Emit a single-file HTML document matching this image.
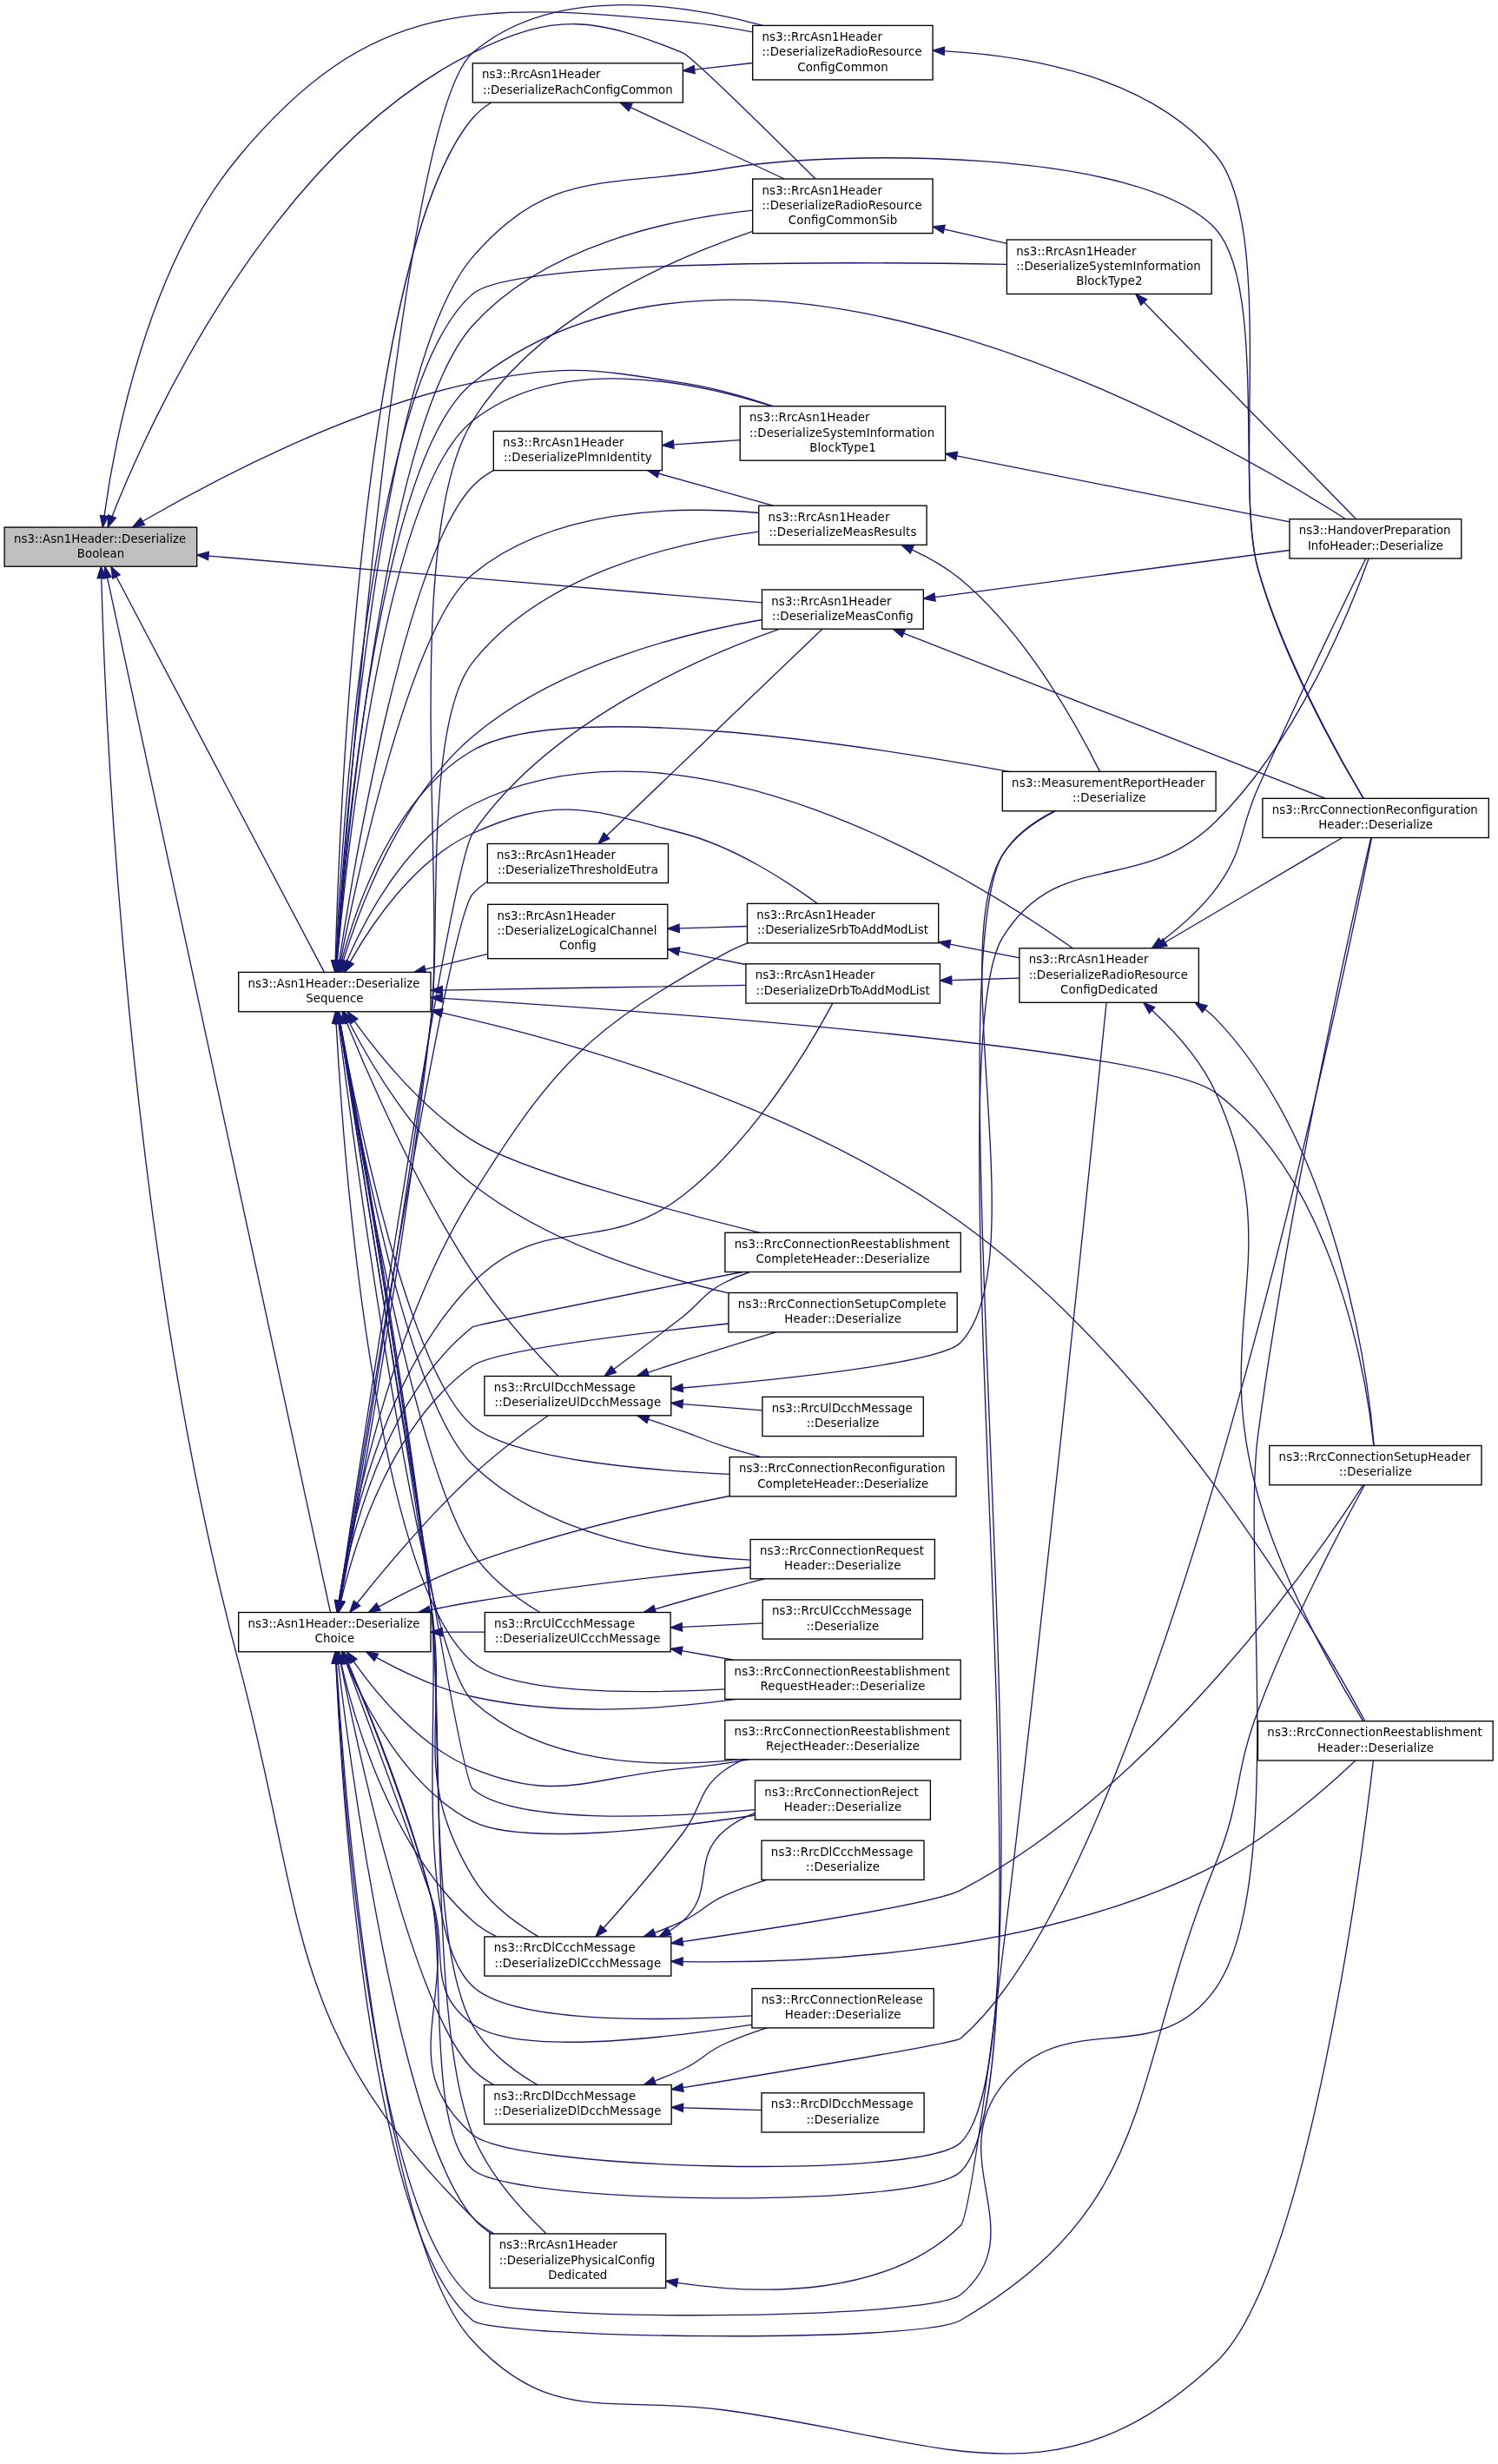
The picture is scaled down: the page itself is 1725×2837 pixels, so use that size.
<!DOCTYPE html>
<html><head><meta charset="utf-8"><title>ns3::Asn1Header::DeserializeBoolean caller graph</title>
<style>html,body{margin:0;padding:0;background:#fff}svg{display:block;will-change:transform;transform:translateZ(0)}</style></head>
<body>
<svg width="1725" height="2837" viewBox="0 0 1725 2837">
<g fill="none" stroke="#191970" stroke-width="1.33">
<path d="M392.0,1177.9C410.9,1281.0 465.7,1587.8 496.0,1844.5 512.0,1980.2 492.8,2331.1 544.3,2457.7 562.7,2503.0 600.7,2544.9 629.2,2571.9"/>
<path d="M391.7,1177.9C410.0,1281.1 463.1,1588.1 496.0,1844.5 509.8,1952.4 491.0,2236.9 544.3,2331.8 561.1,2361.8 592.4,2385.0 618.9,2400.5"/>
<path d="M123.6,665.2C163.6,850.9 348.0,1706.0 380.5,1856.5"/>
<path d="M391.1,1178.0C407.5,1281.4 456.4,1589.0 496.0,1844.5 517.8,1985.2 471.3,2038.9 544.3,2161.2 562.0,2191.0 593.6,2214.3 620.0,2229.9"/>
<path d="M386.2,1106.1C390.6,944.4 416.4,287.3 544.3,136.0 550.4,128.8 557.8,122.9 565.9,118.0"/>
<path d="M391.0,1843.3C415.9,1685.7 516.1,1060.4 544.3,1029.3 549.2,1023.8 555.0,1019.2 561.3,1015.2"/>
<path d="M1326.6,1163.2C1353.1,1187.8 1383.6,1221.5 1400.1,1258.4 1484.7,1447.4 1392.3,1522.5 1448.6,1721.8 1477.5,1824.2 1541.3,1935.1 1569.7,1981.7"/>
<path d="M390.9,1178.0C410.1,1298.0 475.9,1684.1 544.3,1787.8 563.6,1817.1 595.6,1840.7 621.8,1856.5"/>
<path d="M389.5,1915.0C404.5,2040.0 459.9,2454.0 544.3,2553.1 550.4,2560.4 557.8,2566.6 565.8,2571.9"/>
<path d="M390.7,1106.2C408.2,992.2 467.4,641.2 544.3,559.8 551.2,552.5 559.4,546.5 568.3,541.6"/>
<path d="M1387.3,1161.8C1391.9,1165.3 1396.2,1169.0 1400.1,1173.1 1541.8,1321.1 1575.3,1585.8 1582.3,1664.5"/>
<path d="M392.3,1914.9C412.9,2018.1 476.7,2313.7 544.3,2382.5 551.4,2389.7 559.8,2395.6 568.8,2400.5"/>
<path d="M134.0,664.0C185.2,761.5 330.7,1038.2 373.4,1119.4"/>
<path d="M1337.1,1083.9C1359.1,1067.3 1382.9,1046.4 1400.1,1023.3 1433.6,978.6 1425.9,958.4 1448.6,907.3 1492.7,808.0 1549.2,691.3 1572.8,643.0"/>
<path d="M399.2,1177.2C424.0,1238.2 479.6,1366.8 544.3,1465.2 574.2,1510.7 617.0,1557.6 642.9,1584.5"/>
<path d="M392.7,1914.8C408.4,1982.5 451.8,2129.9 544.3,2211.8 552.4,2219.1 561.9,2225.0 571.9,2229.9"/>
<path d="M1317.2,348.0C1382.6,414.8 1510.4,545.2 1561.7,597.7"/>
<path d="M1050.1,632.8C1069.7,641.9 1089.7,653.3 1106.2,667.0 1184.4,732.2 1243.4,841.4 1266.5,888.4"/>
<path d="M698.5,962.3C760.6,902.8 893.0,775.9 946.9,724.2"/>
<path d="M411.1,1846.0C441.1,1808.4 493.1,1745.9 544.3,1698.5 571.9,1672.9 606.5,1647.3 631.6,1629.8"/>
<path d="M694.9,2220.0C720.2,2191.8 756.9,2149.4 786.4,2110.5 809.7,2079.6 803.2,2060.4 834.8,2038.0 841.4,2033.3 848.5,2029.3 856.0,2025.8"/>
<path d="M1341.6,1085.0C1403.4,1048.5 1494.6,994.7 1545.7,964.5"/>
<path d="M770.7,2223.5C776.3,2220.0 781.6,2216.1 786.4,2211.8 824.5,2177.6 795.4,2140.0 834.8,2107.2 845.0,2098.7 856.9,2092.3 869.5,2087.4"/>
<path d="M706.7,1576.5C730.2,1559.0 760.1,1536.4 786.4,1515.9 808.2,1498.8 810.0,1489.0 834.8,1476.5 843.8,1472.0 853.5,1468.0 863.4,1464.5"/>
<path d="M726.0,123.6C777.2,147.4 850.3,181.4 903.2,206.0"/>
<path d="M753.7,2225.4C764.9,2221.2 776.0,2216.7 786.4,2211.8 809.2,2201.2 811.8,2192.6 834.8,2182.4 850.0,2175.6 866.7,2169.6 882.9,2164.4"/>
<path d="M753.8,2396.0C764.9,2391.8 776.0,2387.3 786.4,2382.5 809.2,2371.8 811.8,2363.2 834.8,2353.0 850.1,2346.2 866.8,2340.1 883.1,2334.9"/>
<path d="M745.9,1580.3C774.0,1571.1 805.7,1560.8 834.8,1551.7 853.8,1545.8 874.3,1539.6 893.5,1533.8"/>
<path d="M746.5,1634.1C759.8,1638.6 773.5,1643.3 786.4,1647.8 808.0,1655.4 812.9,1658.8 834.8,1665.6 848.2,1669.8 862.5,1673.8 876.6,1677.6"/>
<path d="M758.4,545.2C800.5,557.0 849.6,570.8 890.1,582.2"/>
<path d="M754.1,1852.8C780.1,1845.2 808.5,1837.1 834.8,1829.9 849.5,1825.9 865.1,1821.8 880.4,1817.8"/>
<path d="M489.6,1116.2C513.2,1110.3 538.2,1104.1 561.7,1098.3"/>
<path d="M1087.1,263.9C1110.8,269.3 1135.7,275.0 1159.4,280.4"/>
<path d="M781.9,1095.4C807.2,1100.4 833.8,1105.6 858.9,1110.5"/>
<path d="M1093.8,1087.2C1120.4,1092.4 1148.2,1097.8 1173.9,1102.9"/>
<path d="M785.2,1900.6C804.6,1904.1 824.8,1907.7 844.3,1911.2"/>
<path d="M799.6,80.1C822.1,77.5 845.1,74.9 866.7,72.5"/>
<path d="M786.1,1616.6C816.6,1619.0 849.0,1621.5 877.9,1623.8"/>
<path d="M775.7,511.8C800.6,510.1 827.0,508.4 852.2,506.7"/>
<path d="M785.4,1873.4C816.3,1871.9 849.0,1870.3 878.2,1868.9"/>
<path d="M782.1,1068.9C807.9,1068.1 835.0,1067.3 860.5,1066.5"/>
<path d="M1095.7,1128.6C1121.7,1127.8 1148.8,1127.0 1173.9,1126.2"/>
<path d="M786.5,2426.8C816.6,2427.7 848.5,2428.7 877.0,2429.6"/>
<path d="M509.3,1879.2C525.7,1879.2 542.3,1879.2 558.3,1879.2"/>
<path d="M116.7,665.5C121.0,818.6 145.8,1431.4 274.7,1913.8 354.3,2211.7 325.4,2335.9 544.3,2553.1 551.5,2560.3 560.0,2566.5 568.9,2571.9"/>
<path d="M392.1,1843.4C411.3,1740.3 466.9,1433.7 496.0,1176.8 513.4,1023.6 462.7,615.4 544.3,484.5 616.8,368.2 765.6,300.6 866.7,266.3"/>
<path d="M779.9,2628.3C879.8,2643.0 1021.6,2644.8 1106.2,2562.4 1132.5,2536.8 1252.9,1362.1 1274.1,1154.3"/>
<path d="M391.5,1843.4C409.2,1740.1 460.9,1433.0 496.0,1176.8 508.6,1085.0 487.0,835.4 544.3,762.6 623.7,661.6 774.5,625.2 873.8,612.1"/>
<path d="M390.7,1843.3C415.4,1678.2 518.6,997.1 544.3,959.5 630.4,833.3 800.6,758.5 897.9,724.2"/>
<path d="M391.6,1177.9C409.5,1281.2 461.9,1588.2 496.0,1844.5 509.1,1942.6 472.6,2218.9 544.3,2287.1 588.8,2329.5 754.7,2327.5 865.9,2320.8"/>
<path d="M387.9,1106.1C400.9,926.3 462.8,131.2 544.3,60.8 635.5,-18.0 783.1,3.4 878.5,29.4"/>
<path d="M390.9,1178.0C417.1,1345.7 527.1,2044.9 544.3,2059.8 591.1,2100.4 758.9,2093.4 869.5,2083.7"/>
<path d="M388.1,1106.1C399.1,969.6 444.6,485.7 544.3,374.7 626.2,283.4 769.2,252.4 866.7,242.1"/>
<path d="M1087.4,58.8C1186.4,64.0 1324.0,88.7 1400.1,178.7 1468.8,259.9 1420.1,552.5 1448.6,655.0 1477.5,759.1 1541.6,872.2 1570.0,919.3"/>
<path d="M389.8,1178.0C408.9,1328.7 485.1,1904.3 544.3,1958.5 625.3,2032.7 754.8,2036.2 849.8,2025.8"/>
<path d="M390.4,1843.3C403.8,1757.1 446.1,1533.6 544.3,1375.8 638.7,1224.1 678.5,1184.6 834.8,1097.8 843.0,1093.2 851.8,1089.3 860.9,1085.8"/>
<path d="M387.1,1178.1C394.8,1317.2 430.0,1816.1 544.3,1913.8 586.7,1950.0 726.7,1950.6 834.8,1944.9"/>
<path d="M390.0,1843.3C401.9,1766.3 440.0,1583.4 544.3,1477.2 625.9,1394.1 694.3,1447.9 786.4,1376.5 869.0,1312.4 933.6,1202.4 958.9,1155.1"/>
<path d="M786.1,1598.0C908.9,1587.6 1084.3,1568.8 1106.2,1545.8 1192.3,1455.0 1088.0,1090.8 1154.3,984.7 1168.5,962.0 1192.4,945.4 1215.3,933.8"/>
<path d="M391.1,1178.0C409.3,1287.4 469.1,1613.9 544.3,1686.5 629.6,1768.9 768.2,1791.3 864.1,1796.2"/>
<path d="M388.3,1106.1C399.7,980.3 444.2,563.3 544.3,484.5 642.0,407.6 794.9,437.8 888.6,467.7"/>
<path d="M391.7,1177.9C410.7,1281.9 470.9,1580.1 544.3,1641.8 588.0,1678.6 731.6,1692.3 840.2,1697.3"/>
<path d="M392.1,1106.3C412.0,1005.0 473.3,720.0 544.3,661.2 636.1,585.2 779.1,582.1 873.8,590.5"/>
<path d="M395.2,1106.6C413.9,1045.2 460.7,918.9 544.3,848.0 640.3,766.6 784.0,729.7 877.5,713.5"/>
<path d="M390.6,1843.3C403.2,1771.4 441.8,1609.4 544.3,1527.8 547.4,1525.3 730.0,1489.1 855.1,1464.5"/>
<path d="M398.6,1914.3C419.7,1970.7 462.2,2085.1 496.0,2182.8 518.6,2248.1 488.4,2290.0 544.3,2330.5 593.7,2366.4 756.4,2348.4 865.9,2331.1"/>
<path d="M402.0,1176.7C426.7,1224.9 477.6,1312.1 544.3,1363.8 630.4,1430.6 748.8,1468.3 839.0,1488.8"/>
<path d="M392.6,1843.5C408.1,1778.0 450.5,1639.1 544.3,1572.5 568.2,1555.5 722.8,1536.3 839.0,1524.0"/>
<path d="M408.0,1175.7C435.8,1214.3 486.3,1277.0 544.3,1313.1 599.6,1347.7 767.4,1392.7 875.2,1419.3"/>
<path d="M1040.6,729.1C1163.0,777.0 1413.2,875.0 1526.2,919.3"/>
<path d="M398.7,1914.1C420.4,1965.3 468.6,2058.7 544.3,2097.2 599.1,2125.0 761.7,2106.5 869.5,2090.0"/>
<path d="M436.0,1850.1C466.6,1833.5 506.7,1813.4 544.3,1799.9 641.0,1765.0 754.6,1739.1 840.2,1722.5"/>
<path d="M407.1,1912.8C434.0,1951.0 483.8,2011.2 544.3,2036.1 643.8,2076.9 679.2,2045.6 786.4,2036.1 811.1,2033.9 837.5,2030.1 862.3,2025.8"/>
<path d="M1101.7,524.9C1216.5,547.6 1380.9,580.2 1485.0,600.8"/>
<path d="M494.9,1853.8C511.4,1850.4 528.3,1847.2 544.3,1844.5 652.6,1826.5 777.6,1812.8 864.1,1804.5"/>
<path d="M1076.5,687.6C1191.3,672.4 1373.0,648.3 1485.0,633.5"/>
<path d="M403.1,1107.7C427.9,1063.8 477.5,989.9 544.3,959.5 642.2,914.9 682.3,932.2 786.4,959.5 846.0,975.1 906.8,1014.9 941.4,1040.4"/>
<path d="M433.3,1908.4C463.8,1925.2 504.9,1944.8 544.3,1953.5 644.8,1975.9 761.9,1968.2 847.9,1956.4"/>
<path d="M509.3,1140.1C612.8,1138.3 759.0,1135.9 858.9,1134.3"/>
<path d="M164.1,600.3C241.2,555.5 398.2,471.6 544.3,440.9 649.6,418.7 680.0,424.5 786.4,440.9 821.1,446.2 858.2,456.9 890.0,467.7"/>
<path d="M129.0,594.7C170.5,489.7 310.3,177.5 544.3,60.8 640.6,12.8 686.5,20.7 786.4,60.8 795.9,64.6 889.1,156.3 939.1,206.0"/>
<path d="M786.4,2403.7C914.7,2382.9 1100.0,2352.2 1106.2,2346.9 1336.5,2150.1 1546.7,1129.7 1579.5,964.5"/>
<path d="M400.4,1914.1C423.8,1969.9 469.3,2083.1 496.0,2182.8 528.1,2302.6 450.6,2376.4 544.3,2457.7 591.4,2498.6 1061.3,2510.4 1106.2,2467.0 1224.6,2352.4 1070.7,1126.7 1154.3,984.7 1167.7,961.9 1191.2,945.4 1214.0,933.8"/>
<path d="M386.8,1106.1C393.3,963.4 425.2,440.6 544.3,338.5 589.7,299.5 964.0,300.9 1159.4,304.4"/>
<path d="M120.1,593.9C131.2,512.0 168.6,308.4 274.7,180.7 426.6,-2.2 549.8,2.2 786.4,24.9 812.6,27.4 840.6,31.9 866.7,36.9"/>
<path d="M786.0,2235.6C906.6,2218.0 1078.1,2191.2 1106.2,2176.4 1333.8,2056.7 1518.3,1789.2 1569.7,1709.8"/>
<path d="M786.1,2258.6C937.9,2261.2 1202.5,2248.6 1400.1,2147.3 1464.1,2114.5 1527.9,2058.3 1560.9,2027.0"/>
<path d="M393.4,1106.5C409.8,1044.1 453.0,917.0 544.3,864.0 646.1,805.0 982.3,855.6 1161.9,888.4"/>
<path d="M240.0,640.1C413.0,654.7 722.9,680.8 877.5,693.8"/>
<path d="M399.0,1107.1C420.9,1056.4 469.2,964.4 544.3,926.5 788.8,803.0 1119.6,1009.8 1235.3,1091.8"/>
<path d="M509.3,1149.4C764.3,1165.3 1329.9,1206.1 1400.1,1258.4 1539.0,1361.8 1574.1,1591.6 1581.9,1664.5"/>
<path d="M400.6,1914.0C424.5,1969.8 470.4,2082.8 496.0,2182.8 513.6,2251.5 490.7,2451.7 544.3,2498.1 591.5,2539.0 1061.3,2543.8 1106.2,2500.5 1219.8,2390.7 1071.4,1214.2 1154.3,1079.8 1219.6,973.9 1311.5,1033.1 1400.1,945.8 1494.8,852.5 1555.6,700.2 1576.2,643.0"/>
<path d="M387.0,1915.1C394.3,2054.0 428.3,2552.0 544.3,2646.4 578.3,2674.1 1070.8,2671.5 1106.2,2642.1 1190.3,2572.1 1086.3,2486.4 1154.3,2400.7 1228.9,2306.7 1331.4,2387.4 1400.1,2289.1 1481.4,2172.9 1429.9,1793.1 1448.6,1652.5 1484.9,1379.3 1558.4,1052.3 1578.7,964.5"/>
<path d="M509.0,1166.1C660.8,1200.2 920.9,1273.8 1106.2,1407.3 1342.6,1577.6 1524.7,1894.6 1571.9,1981.7"/>
<path d="M387.8,1106.1C397.4,974.9 437.9,525.8 544.3,440.9 861.3,187.6 1408.2,507.1 1549.7,597.7"/>
<path d="M387.4,1106.1C396.4,961.0 436.6,421.2 544.3,295.9 633.4,192.1 699.9,217.0 834.8,194.0 959.6,172.8 1315.7,169.7 1400.1,264.0 1458.5,329.2 1424.2,570.9 1448.6,655.0 1478.7,758.8 1542.2,872.1 1570.2,919.3"/>
<path d="M386.8,1915.1C393.2,2056.8 424.6,2573.7 544.3,2671.7 569.8,2692.6 1059.8,2698.8 1106.2,2671.5 1337.3,2535.7 1298.4,2392.9 1400.1,2145.0 1430.8,2070.2 1420.2,2045.4 1448.6,1969.7 1486.0,1869.7 1545.6,1757.0 1571.4,1709.8"/>
<path d="M387.4,1915.1C396.4,2057.3 436.1,2578.6 544.3,2695.3 635.3,2793.5 702.1,2757.1 834.8,2775.0 1085.0,2808.7 1215.8,2892.5 1400.1,2720.0 1506.1,2620.8 1568.4,2137.7 1581.4,2027.0"/>
</g>
<g fill="#191970" stroke="#191970" stroke-width="1.33">
<polygon points="387.4,1178.8 389.6,1164.8 396.6,1177.1"/>
<polygon points="387.1,1178.7 389.4,1164.8 396.3,1177.1"/>
<polygon points="119.0,666.2 120.8,652.2 128.1,664.2"/>
<polygon points="386.5,1178.7 389.0,1164.8 395.7,1177.2"/>
<polygon points="390.8,1106.2 385.8,1119.4 381.5,1105.9"/>
<polygon points="395.6,1844.1 388.9,1856.5 386.4,1842.6"/>
<polygon points="1323.4,1166.7 1316.7,1154.3 1329.7,1159.8"/>
<polygon points="386.3,1178.7 388.8,1164.8 395.5,1177.2"/>
<polygon points="384.8,1915.6 387.9,1901.8 394.1,1914.5"/>
<polygon points="395.3,1106.9 388.7,1119.4 386.0,1105.5"/>
<polygon points="1384.7,1165.7 1376.3,1154.3 1390.0,1158.0"/>
<polygon points="387.7,1915.8 389.7,1901.8 396.8,1914.0"/>
<polygon points="129.8,666.2 127.8,652.2 138.1,661.8"/>
<polygon points="1339.9,1087.7 1326.4,1091.8 1334.4,1080.1"/>
<polygon points="394.9,1178.9 394.2,1164.8 403.5,1175.4"/>
<polygon points="388.1,1915.8 389.8,1901.8 397.2,1913.8"/>
<polygon points="1313.8,351.3 1307.8,338.5 1320.5,344.8"/>
<polygon points="1048.2,637.1 1037.9,627.4 1052.0,628.5"/>
<polygon points="701.7,965.6 688.9,971.5 695.3,958.9"/>
<polygon points="414.7,1848.9 402.8,1856.5 407.4,1843.1"/>
<polygon points="698.4,2223.1 686.0,2229.9 691.5,2216.9"/>
<polygon points="1344.0,1089.0 1330.1,1091.8 1339.2,1081.0"/>
<polygon points="772.9,2227.5 759.0,2229.9 768.4,2219.4"/>
<polygon points="709.5,1580.3 696.0,1584.5 703.9,1572.8"/>
<polygon points="724.0,127.9 713.9,118.0 728.0,119.4"/>
<polygon points="755.3,2229.8 741.2,2229.9 752.1,2221.0"/>
<polygon points="755.4,2400.4 741.2,2400.5 752.2,2391.6"/>
<polygon points="747.4,1584.8 733.3,1584.5 744.5,1575.9"/>
<polygon points="745.0,1638.5 733.9,1629.8 748.0,1629.6"/>
<polygon points="757.1,549.7 745.6,541.6 759.7,540.7"/>
<polygon points="755.4,1857.2 741.3,1856.5 752.8,1848.3"/>
<polygon points="490.7,1120.7 476.7,1119.4 488.5,1111.7"/>
<polygon points="1086.1,268.4 1074.1,260.9 1088.1,259.3"/>
<polygon points="781.0,1100.0 768.8,1092.8 782.8,1090.8"/>
<polygon points="1092.9,1091.8 1080.7,1084.6 1094.7,1082.6"/>
<polygon points="784.4,1905.2 772.1,1898.3 786.0,1896.0"/>
<polygon points="800.2,84.7 786.4,81.6 799.1,75.5"/>
<polygon points="785.7,1621.2 772.8,1615.5 786.5,1611.9"/>
<polygon points="776.0,516.4 762.4,512.7 775.4,507.1"/>
<polygon points="785.6,1878.0 772.1,1874.0 785.2,1868.7"/>
<polygon points="782.3,1073.6 768.8,1069.3 782.0,1064.2"/>
<polygon points="1095.9,1133.3 1082.4,1129.0 1095.6,1123.9"/>
<polygon points="786.4,2431.5 773.2,2426.4 786.7,2422.1"/>
<polygon points="509.3,1883.8 496.0,1879.2 509.3,1874.5"/>
<polygon points="112.1,665.7 116.4,652.2 121.4,665.4"/>
<polygon points="396.7,1844.3 389.7,1856.5 387.5,1842.5"/>
<polygon points="779.2,2633.0 766.7,2626.3 780.6,2623.7"/>
<polygon points="396.1,1844.1 389.3,1856.5 386.9,1842.6"/>
<polygon points="395.3,1844.0 388.7,1856.5 386.1,1842.6"/>
<polygon points="387.0,1178.7 389.3,1164.8 396.2,1177.1"/>
<polygon points="392.5,1106.4 386.9,1119.4 383.2,1105.8"/>
<polygon points="386.3,1178.7 388.9,1164.8 395.5,1177.3"/>
<polygon points="392.7,1106.5 387.0,1119.4 383.4,1105.7"/>
<polygon points="1087.2,63.4 1074.1,58.2 1087.6,54.1"/>
<polygon points="385.2,1178.6 388.2,1164.8 394.4,1177.4"/>
<polygon points="395.0,1844.0 388.4,1856.5 385.8,1842.6"/>
<polygon points="382.5,1178.4 386.4,1164.8 391.8,1177.9"/>
<polygon points="394.7,1844.0 388.1,1856.5 385.4,1842.6"/>
<polygon points="786.5,1602.7 772.8,1599.2 785.7,1593.4"/>
<polygon points="386.5,1178.7 388.9,1164.8 395.7,1177.2"/>
<polygon points="393.0,1106.5 387.2,1119.4 383.7,1105.7"/>
<polygon points="387.1,1178.8 389.3,1164.8 396.3,1177.1"/>
<polygon points="396.7,1107.2 389.6,1119.4 387.5,1105.4"/>
<polygon points="399.6,1107.9 391.4,1119.4 390.7,1105.3"/>
<polygon points="395.2,1844.1 388.4,1856.5 386.0,1842.6"/>
<polygon points="394.2,1915.9 393.9,1901.8 403.0,1912.6"/>
<polygon points="397.8,1178.8 396.0,1164.8 406.1,1174.6"/>
<polygon points="397.2,1844.5 389.7,1856.5 388.1,1842.5"/>
<polygon points="404.2,1178.4 400.3,1164.8 411.8,1173.0"/>
<polygon points="1038.9,733.4 1028.2,724.2 1042.3,724.7"/>
<polygon points="394.4,1915.9 393.6,1901.8 403.0,1912.4"/>
<polygon points="438.2,1854.2 424.3,1856.5 433.7,1846.0"/>
<polygon points="403.2,1915.4 399.5,1901.8 410.9,1910.2"/>
<polygon points="1100.8,529.5 1088.6,522.3 1102.6,520.3"/>
<polygon points="495.9,1858.3 481.9,1856.5 494.0,1849.2"/>
<polygon points="1077.1,692.2 1063.3,689.3 1075.9,682.9"/>
<polygon points="407.2,1110.0 396.6,1119.4 399.0,1105.5"/>
<polygon points="431.0,1912.4 421.7,1901.8 435.6,1904.3"/>
<polygon points="509.4,1144.7 496.0,1140.3 509.3,1135.4"/>
<polygon points="166.5,604.4 152.7,607.1 161.8,596.3"/>
<polygon points="133.4,596.4 124.2,607.1 124.7,593.0"/>
<polygon points="787.1,2408.3 773.2,2405.8 785.6,2399.1"/>
<polygon points="396.1,1915.9 395.2,1901.8 404.7,1912.3"/>
<polygon points="391.5,1106.3 386.2,1119.4 382.1,1105.9"/>
<polygon points="124.7,594.5 118.3,607.1 115.4,593.3"/>
<polygon points="786.7,2240.2 772.8,2237.5 785.3,2231.0"/>
<polygon points="786.0,2263.2 772.8,2258.3 786.2,2253.9"/>
<polygon points="398.0,1107.6 390.2,1119.4 388.9,1105.3"/>
<polygon points="239.6,644.7 226.7,639.0 240.4,635.4"/>
<polygon points="403.3,1108.9 393.8,1119.4 394.7,1105.3"/>
<polygon points="509.0,1154.0 496.0,1148.5 509.6,1144.7"/>
<polygon points="396.4,1915.9 395.4,1901.8 404.9,1912.2"/>
<polygon points="382.4,1915.4 386.4,1901.8 391.7,1914.9"/>
<polygon points="508.0,1170.7 496.0,1163.3 510.0,1161.6"/>
<polygon points="392.4,1106.4 386.8,1119.4 383.1,1105.8"/>
<polygon points="392.1,1106.4 386.6,1119.4 382.8,1105.8"/>
<polygon points="382.1,1915.3 386.2,1901.8 391.4,1914.9"/>
<polygon points="382.8,1915.4 386.6,1901.8 392.1,1914.8"/>
</g>
<g font-family="'DejaVu Sans', 'Liberation Sans', sans-serif" font-size="13.33px" fill="#000">
<rect x="5.1" y="607.1" width="221.6" height="45.1" fill="#bfbfbf" stroke="#000" stroke-width="1.33"/>
<text x="15.9" y="624.6" textLength="198.3">ns3::Asn1Header::Deserialize</text>
<text x="88.7" y="641.9" textLength="54.4">Boolean</text>
<rect x="274.7" y="1119.4" width="221.3" height="45.4" fill="#fff" stroke="#000" stroke-width="1.33"/>
<text x="285.5" y="1137.0" textLength="198.0">ns3::Asn1Header::Deserialize</text>
<text x="352.3" y="1154.3" textLength="66.2">Sequence</text>
<rect x="274.7" y="1856.5" width="221.3" height="45.3" fill="#fff" stroke="#000" stroke-width="1.33"/>
<text x="285.5" y="1874.1" textLength="198.0">ns3::Asn1Header::Deserialize</text>
<text x="362.6" y="1891.4" textLength="45.5">Choice</text>
<rect x="544.3" y="72.8" width="242.1" height="45.2" fill="#fff" stroke="#000" stroke-width="1.33"/>
<text x="555.1" y="90.3" textLength="136.5">ns3::RrcAsn1Header</text>
<text x="555.9" y="107.6" textLength="218.8">::DeserializeRachConfigCommon</text>
<rect x="568.3" y="496.5" width="194.1" height="45.1" fill="#fff" stroke="#000" stroke-width="1.33"/>
<text x="579.1" y="513.9" textLength="139.4">ns3::RrcAsn1Header</text>
<text x="579.9" y="531.2" textLength="170.8">::DeserializePlmnIdentity</text>
<rect x="561.3" y="971.5" width="208.2" height="45.1" fill="#fff" stroke="#000" stroke-width="1.33"/>
<text x="572.1" y="988.9" textLength="136.8">ns3::RrcAsn1Header</text>
<text x="572.9" y="1006.2" textLength="184.9">::DeserializeThresholdEutra</text>
<rect x="561.7" y="1041.3" width="207.1" height="62.4" fill="#fff" stroke="#000" stroke-width="1.33"/>
<text x="572.5" y="1058.8" textLength="136.2">ns3::RrcAsn1Header</text>
<text x="572.5" y="1076.0" textLength="184.0">::DeserializeLogicalChannel</text>
<text x="643.9" y="1093.4" textLength="42.8">Config</text>
<rect x="557.9" y="1584.5" width="214.9" height="45.3" fill="#fff" stroke="#000" stroke-width="1.33"/>
<text x="568.7" y="1602.1" textLength="163.1">ns3::RrcUlDcchMessage</text>
<text x="569.5" y="1619.4" textLength="191.6">::DeserializeUlDcchMessage</text>
<rect x="558.3" y="1856.5" width="213.8" height="45.3" fill="#fff" stroke="#000" stroke-width="1.33"/>
<text x="569.1" y="1874.1" textLength="162.0">ns3::RrcUlCcchMessage</text>
<text x="570.0" y="1891.4" textLength="190.5">::DeserializeUlCcchMessage</text>
<rect x="557.9" y="2229.9" width="214.9" height="45.2" fill="#fff" stroke="#000" stroke-width="1.33"/>
<text x="568.7" y="2247.4" textLength="163.0">ns3::RrcDlCcchMessage</text>
<text x="569.5" y="2264.7" textLength="191.6">::DeserializeDlCcchMessage</text>
<rect x="557.5" y="2400.5" width="215.7" height="45.2" fill="#fff" stroke="#000" stroke-width="1.33"/>
<text x="568.3" y="2418.0" textLength="163.9">ns3::RrcDlDcchMessage</text>
<text x="569.1" y="2435.3" textLength="192.4">::DeserializeDlDcchMessage</text>
<rect x="563.9" y="2571.9" width="202.8" height="62.5" fill="#fff" stroke="#000" stroke-width="1.33"/>
<text x="574.7" y="2589.4" textLength="136.2">ns3::RrcAsn1Header</text>
<text x="574.7" y="2606.7" textLength="179.5">::DeserializePhysicalConfig</text>
<text x="631.3" y="2624.0" textLength="68.0">Dedicated</text>
<rect x="866.7" y="29.4" width="207.4" height="62.5" fill="#fff" stroke="#000" stroke-width="1.33"/>
<text x="877.5" y="46.9" textLength="138.4">ns3::RrcAsn1Header</text>
<text x="877.5" y="64.2" textLength="184.1">::DeserializeRadioResource</text>
<text x="918.2" y="81.5" textLength="104.5">ConfigCommon</text>
<rect x="866.7" y="206.0" width="207.4" height="62.6" fill="#fff" stroke="#000" stroke-width="1.33"/>
<text x="877.5" y="223.6" textLength="138.4">ns3::RrcAsn1Header</text>
<text x="877.5" y="240.9" textLength="184.1">::DeserializeRadioResource</text>
<text x="907.7" y="258.1" textLength="125.4">ConfigCommonSib</text>
<rect x="852.2" y="467.7" width="236.4" height="62.5" fill="#fff" stroke="#000" stroke-width="1.33"/>
<text x="863.0" y="485.2" textLength="138.6">ns3::RrcAsn1Header</text>
<text x="863.0" y="502.5" textLength="213.1">::DeserializeSystemInformation</text>
<text x="932.2" y="519.8" textLength="76.5">BlockType1</text>
<rect x="873.8" y="582.2" width="193.3" height="45.2" fill="#fff" stroke="#000" stroke-width="1.33"/>
<text x="884.6" y="599.7" textLength="139.9">ns3::RrcAsn1Header</text>
<text x="885.4" y="617.0" textLength="170.0">::DeserializeMeasResults</text>
<rect x="877.5" y="679.0" width="185.8" height="45.2" fill="#fff" stroke="#000" stroke-width="1.33"/>
<text x="888.3" y="696.5" textLength="138.2">ns3::RrcAsn1Header</text>
<text x="889.1" y="713.8" textLength="162.5">::DeserializeMeasConfig</text>
<rect x="860.5" y="1040.4" width="220.2" height="45.4" fill="#fff" stroke="#000" stroke-width="1.33"/>
<text x="871.3" y="1058.0" textLength="136.7">ns3::RrcAsn1Header</text>
<text x="872.1" y="1075.3" textLength="196.9">::DeserializeSrbToAddModList</text>
<rect x="858.9" y="1109.8" width="223.5" height="45.3" fill="#fff" stroke="#000" stroke-width="1.33"/>
<text x="869.7" y="1127.3" textLength="137.7">ns3::RrcAsn1Header</text>
<text x="870.6" y="1144.6" textLength="200.2">::DeserializeDrbToAddModList</text>
<rect x="834.9" y="1419.3" width="271.4" height="45.2" fill="#fff" stroke="#000" stroke-width="1.33"/>
<text x="845.7" y="1436.8" textLength="248.1">ns3::RrcConnectionReestablishment</text>
<text x="870.4" y="1454.1" textLength="200.3">CompleteHeader::Deserialize</text>
<rect x="839.0" y="1488.5" width="263.2" height="45.3" fill="#fff" stroke="#000" stroke-width="1.33"/>
<text x="849.8" y="1506.1" textLength="239.9">ns3::RrcConnectionSetupComplete</text>
<text x="903.3" y="1523.4" textLength="134.7">Header::Deserialize</text>
<rect x="877.9" y="1608.4" width="185.4" height="45.2" fill="#fff" stroke="#000" stroke-width="1.33"/>
<text x="888.7" y="1625.9" textLength="162.1">ns3::RrcUlDcchMessage</text>
<text x="928.7" y="1643.2" textLength="83.7">::Deserialize</text>
<rect x="840.2" y="1677.6" width="260.8" height="45.3" fill="#fff" stroke="#000" stroke-width="1.33"/>
<text x="851.0" y="1695.2" textLength="237.5">ns3::RrcConnectionReconfiguration</text>
<text x="872.2" y="1712.5" textLength="196.9">CompleteHeader::Deserialize</text>
<rect x="864.1" y="1772.5" width="212.3" height="45.3" fill="#fff" stroke="#000" stroke-width="1.33"/>
<text x="874.9" y="1790.1" textLength="189.0">ns3::RrcConnectionRequest</text>
<text x="903.1" y="1807.4" textLength="134.3">Header::Deserialize</text>
<rect x="878.2" y="1841.9" width="184.3" height="45.2" fill="#fff" stroke="#000" stroke-width="1.33"/>
<text x="889.0" y="1859.4" textLength="161.0">ns3::RrcUlCcchMessage</text>
<text x="928.5" y="1876.7" textLength="83.6">::Deserialize</text>
<rect x="834.8" y="1911.2" width="271.4" height="45.2" fill="#fff" stroke="#000" stroke-width="1.33"/>
<text x="845.6" y="1928.7" textLength="248.1">ns3::RrcConnectionReestablishment</text>
<text x="875.5" y="1946.0" textLength="190.0">RequestHeader::Deserialize</text>
<rect x="834.8" y="1980.6" width="271.4" height="45.2" fill="#fff" stroke="#000" stroke-width="1.33"/>
<text x="845.6" y="1998.1" textLength="248.1">ns3::RrcConnectionReestablishment</text>
<text x="882.1" y="2015.4" textLength="176.8">RejectHeader::Deserialize</text>
<rect x="869.5" y="2050.0" width="201.9" height="45.2" fill="#fff" stroke="#000" stroke-width="1.33"/>
<text x="880.3" y="2067.5" textLength="177.4">ns3::RrcConnectionReject</text>
<text x="902.7" y="2084.8" textLength="135.4">Header::Deserialize</text>
<rect x="877.0" y="2119.2" width="187.0" height="45.2" fill="#fff" stroke="#000" stroke-width="1.33"/>
<text x="887.8" y="2136.7" textLength="163.7">ns3::RrcDlCcchMessage</text>
<text x="928.1" y="2154.0" textLength="84.8">::Deserialize</text>
<rect x="865.9" y="2289.6" width="209.4" height="45.3" fill="#fff" stroke="#000" stroke-width="1.33"/>
<text x="876.7" y="2307.2" textLength="186.1">ns3::RrcConnectionRelease</text>
<text x="903.8" y="2324.4" textLength="133.7">Header::Deserialize</text>
<rect x="877.0" y="2409.8" width="187.1" height="45.2" fill="#fff" stroke="#000" stroke-width="1.33"/>
<text x="887.8" y="2427.3" textLength="163.8">ns3::RrcDlDcchMessage</text>
<text x="928.4" y="2444.6" textLength="84.3">::Deserialize</text>
<rect x="1159.4" y="276.0" width="235.8" height="62.5" fill="#fff" stroke="#000" stroke-width="1.33"/>
<text x="1170.2" y="293.5" textLength="138.2">ns3::RrcAsn1Header</text>
<text x="1170.2" y="310.8" textLength="212.5">::DeserializeSystemInformation</text>
<text x="1239.2" y="328.1" textLength="76.3">BlockType2</text>
<rect x="1154.3" y="888.4" width="245.8" height="45.4" fill="#fff" stroke="#000" stroke-width="1.33"/>
<text x="1165.1" y="906.0" textLength="222.5">ns3::MeasurementReportHeader</text>
<text x="1234.9" y="923.3" textLength="84.6">::Deserialize</text>
<rect x="1173.9" y="1091.8" width="206.5" height="62.5" fill="#fff" stroke="#000" stroke-width="1.33"/>
<text x="1184.7" y="1109.3" textLength="137.7">ns3::RrcAsn1Header</text>
<text x="1184.7" y="1126.6" textLength="183.2">::DeserializeRadioResource</text>
<text x="1221.1" y="1143.9" textLength="112.0">ConfigDedicated</text>
<rect x="1485.0" y="597.7" width="197.8" height="45.3" fill="#fff" stroke="#000" stroke-width="1.33"/>
<text x="1495.8" y="615.2" textLength="174.7">ns3::HandoverPreparation</text>
<text x="1505.9" y="632.6" textLength="156.1">InfoHeader::Deserialize</text>
<rect x="1453.9" y="919.3" width="260.4" height="45.2" fill="#fff" stroke="#000" stroke-width="1.33"/>
<text x="1464.7" y="936.8" textLength="237.1">ns3::RrcConnectionReconfiguration</text>
<text x="1518.2" y="954.1" textLength="131.8">Header::Deserialize</text>
<rect x="1461.8" y="1664.5" width="244.2" height="45.3" fill="#fff" stroke="#000" stroke-width="1.33"/>
<text x="1472.6" y="1682.1" textLength="220.9">ns3::RrcConnectionSetupHeader</text>
<text x="1542.0" y="1699.4" textLength="83.9">::Deserialize</text>
<rect x="1448.5" y="1981.7" width="270.7" height="45.3" fill="#fff" stroke="#000" stroke-width="1.33"/>
<text x="1459.3" y="1999.2" textLength="247.4">ns3::RrcConnectionReestablishment</text>
<text x="1516.9" y="2016.5" textLength="134.0">Header::Deserialize</text>
</g></svg>
</body></html>
